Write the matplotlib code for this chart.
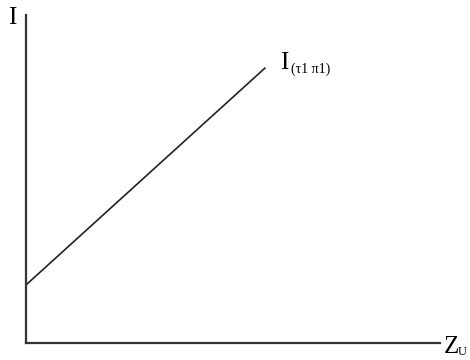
import matplotlib
matplotlib.use("Agg")
import matplotlib.pyplot as plt

line_x = [0.0, 0.577]
line_y = [0.177, 0.838]
line_label = "I"
line_sub = "(τ1 π1)"
y_label = "I"
x_label = "Z"
x_sub = "U"

plt.rcParams['font.family'] = ['Liberation Serif', 'DejaVu Serif']
fig = plt.figure(figsize=(4.7, 3.6), dpi=100)
ax = fig.add_axes([26/470, 17/360, 414/470, 328/360])
ax.set_xlim(0, 1)
ax.set_ylim(0, 1)
ax.plot(line_x, line_y, color='#222222', lw=1.2)
for s in ['top', 'right']:
    ax.spines[s].set_visible(False)
for s in ['left', 'bottom']:
    ax.spines[s].set_linewidth(1.6)
    ax.spines[s].set_color('#333333')
ax.set_xticks([])
ax.set_yticks([])

fig.text(8/470, 1 - 18/360, y_label, fontsize=18, va='center', ha='left')
fig.text(444/470, 1 - 347/360, x_label, fontsize=18, va='center', ha='left')
fig.text(458/470, 1 - 352/360, x_sub, fontsize=9, va='center', ha='left')
fig.text(280/470, 1 - 63/360, line_label, fontsize=18, va='center', ha='left')
fig.text(291/470, 1 - 69/360, line_sub, fontsize=10, va='center', ha='left')

fig.savefig("out.png", dpi=100)
